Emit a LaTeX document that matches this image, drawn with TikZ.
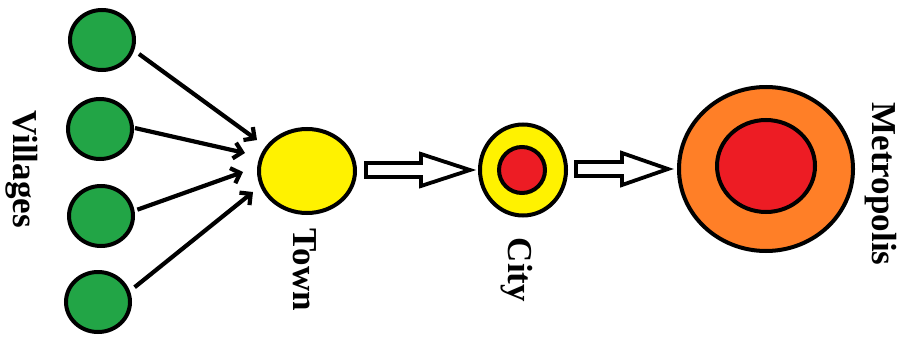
\documentclass[tikz,border=0pt]{standalone}
\usepackage{fontspec}
\setmainfont{Liberation Serif}
\usetikzlibrary{shapes.geometric,arrows.meta,calc}
\definecolor{vgreen}{RGB}{34,165,70}
\definecolor{tyellow}{RGB}{255,242,0}
\definecolor{cred}{RGB}{237,28,36}
\definecolor{morange}{RGB}{255,127,39}
\begin{document}
\begin{tikzpicture}[x=1pt,y=-1pt,
  place/.style={ellipse,draw=black,line width=4pt,inner sep=0pt},
  village/.style={place,fill=vgreen,minimum width=64pt,minimum height=60pt},
  feed/.style={line width=4.2pt,-{Straight Barb[length=8pt,width=16pt]}},
  hollow/.style={draw=black,fill=white,line width=3.8pt,line join=miter},
  lab/.style={rotate=-90,anchor=base,inner sep=0pt,font=\bfseries\fontsize{35}{35}\selectfont}]
\useasboundingbox (0,0) rectangle (901,337);
% villages
\node[village] (v1) at (102,40) {};
\node[village] (v2) at (100,129) {};
\node[village] (v3) at (101,216) {};
\node[village] (v4) at (98,302) {};
% town, city, metropolis
\node[place,fill=tyellow,minimum width=96pt,minimum height=84pt] (town) at (307,171) {};
\node[place,fill=tyellow,minimum width=86pt,minimum height=91pt] (city) at (523,170) {};
\node[place,fill=cred,minimum width=46pt,minimum height=46pt] (cityc) at (522,170) {};
\node[place,fill=morange,minimum width=174pt,minimum height=164pt] (metro) at (766,169) {};
\node[place,fill=cred,minimum width=98pt,minimum height=92pt] (metroc) at (766,166) {};
% arrow ends near the town
\coordinate (t1) at (257,140);
\coordinate (t2) at (245,153);
\coordinate (t3) at (243,172);
\coordinate (t4) at (253,192);
\draw[feed,shorten <=6pt] (v1.-18) -- (t1);
\draw[feed,shorten <=1pt] (v2.2) -- (t2);
\draw[feed,shorten <=3pt] (v3.9) -- (t3);
\draw[feed,shorten <=6pt] (v4.19) -- (t4);
% hollow arrows
\draw[hollow] let \p1=(town.east), \p2=(city.west) in
  (\x1+9pt,\y2+7pt) -- (\x2-57pt,\y2+7pt) -- (\x2-57pt,\y2+16pt) -- (\x2-8pt,\y2)
  -- (\x2-57pt,\y2-16pt) -- (\x2-57pt,\y2-7pt) -- (\x1+9pt,\y2-7pt) -- cycle;
\draw[hollow] let \p1=(city.east), \p2=(metro.west) in
  (\x1+8pt,\y2+7pt) -- (\x2-55pt,\y2+7pt) -- (\x2-55pt,\y2+16pt) -- (\x2-9pt,\y2)
  -- (\x2-55pt,\y2-16pt) -- (\x2-55pt,\y2-7pt) -- (\x1+8pt,\y2-7pt) -- cycle;
% labels
\node[lab] (lv) at (13,169) {Villages};
\node[lab] (lt) at (293,270) {Town};
\node[lab] (lc) at (508,270) {City};
\node[lab] (lm) at (872,184) {Metropolis};
\end{tikzpicture}
\end{document}
